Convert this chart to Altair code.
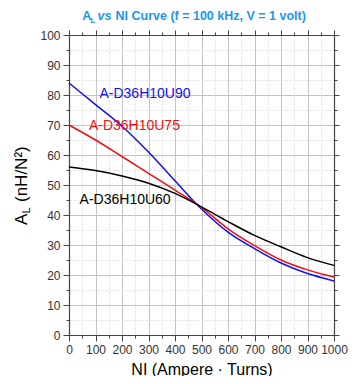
import altair as alt
import pandas as pd

# ---- data ----
ni = [0, 100, 200, 300, 400, 500, 600, 700, 800, 900, 1000]
al_u90 = [84.0, 76.8, 69.6, 61.0, 51.4, 42.0, 34.3, 28.8, 24.0, 20.5, 18.0]
al_u75 = [70.0, 65.0, 59.5, 53.9, 48.3, 42.5, 35.4, 29.8, 25.0, 21.7, 19.3]
al_u60 = [56.0, 54.8, 53.0, 50.6, 47.2, 42.7, 37.8, 33.2, 29.4, 25.8, 23.2]
series_names = ["A-D36H10U90", "A-D36H10U75", "A-D36H10U60"]
series_colors = ["#1010f0", "#f01010", "#000000"]

x_tick_values = list(range(0, 1001, 50))
y_tick_values = list(range(0, 101, 5))

rows = []
for name, vals in zip(series_names, [al_u90, al_u75, al_u60]):
    for x, v in zip(ni, vals):
        rows.append({"NI": x, "AL": v, "series": name})
df = pd.DataFrame(rows)

FONT = "Liberation Sans"
W, H = 265, 300

x_scale = alt.Scale(domain=[0, 1000], nice=False, zero=False)
y_scale = alt.Scale(domain=[0, 100], nice=False, zero=False)

mx = "datum.value % 100 === 0"
my = "datum.value % 10 === 0"


def cond(test, a, b):
    return {"condition": {"test": test, "value": a}, "value": b}


x_axis = alt.Axis(
    values=x_tick_values, format="d",
    labelExpr=f"{mx} ? datum.label : ''",
    labelOverlap=False, labelBound=False, labelFlush=False,
    labelFont=FONT, labelFontSize=12, labelColor="#333333", labelPadding=3,
    tickSize=cond(mx, 6, 3), tickColor="#444444", tickWidth=1,
    domainColor="#444444", domainWidth=1.2,
    grid=True, gridColor=cond(mx, "#c4c4c4", "#dedede"),
    gridDash=cond(mx, [], [2, 2]), gridWidth=1,
    title="NI (Ampere · Turns)", titleFont=FONT, titleFontSize=16,
    titleFontWeight="normal", titleColor="#000000",
    titleY=39, titleBaseline="alphabetic",
)
y_axis = alt.Axis(
    values=y_tick_values, format="d",
    labelExpr=f"{my} ? datum.label : ''",
    labelOverlap=False, labelBound=False, labelFlush=False,
    labelFont=FONT, labelFontSize=12, labelColor="#333333", labelPadding=3,
    tickSize=cond(my, 6, 3), tickColor="#444444", tickWidth=1,
    domainColor="#444444", domainWidth=1.2,
    grid=True, gridColor=cond(my, "#c4c4c4", "#dedede"),
    gridDash=cond(my, [], [2, 2]), gridWidth=1,
    title=None,
)

lines = alt.Chart(df).mark_line(interpolate="monotone", strokeWidth=1.5).encode(
    x=alt.X("NI:Q", scale=x_scale, axis=x_axis),
    y=alt.Y("AL:Q", scale=y_scale, axis=y_axis),
    color=alt.Color("series:N", scale=alt.Scale(domain=series_names, range=series_colors), legend=None),
    detail="series:N",
)

# series annotations (data coordinates)
label_pos = {"A-D36H10U90": (115, 79), "A-D36H10U75": (75, 68.3), "A-D36H10U60": (40, 43.7)}
one = pd.DataFrame({"a": [0]})
texts = []
for name, col in zip(series_names, series_colors):
    lx, ly = label_pos[name]
    texts.append(
        alt.Chart(one).mark_text(align="left", baseline="alphabetic", font=FONT, fontSize=14, color=col).encode(
            x=alt.X(datum=lx, scale=x_scale, axis=x_axis),
            y=alt.Y(datum=ly, scale=y_scale, axis=y_axis),
            text=alt.value(name),
        )
    )


def ptext(txt, x, y, size, color="#000000", weight="normal", style="normal", angle=0):
    kw = dict(align="left", baseline="alphabetic", font=FONT, fontSize=size, color=color,
              fontWeight=weight, fontStyle=style)
    if angle:
        kw["angle"] = angle
    return alt.Chart(one).mark_text(**kw).encode(
        x=alt.value(x), y=alt.value(y), text=alt.value(txt)
    )


TC = "#1a96f0"
title_parts = [
    ptext("A", 13.2, -15, 12.5, TC, "bold"),
    ptext("L", 21.5, -12.3, 8, TC, "bold"),
    ptext("vs", 28.5, -15, 12.5, TC, "bold", "italic"),
    ptext("NI Curve (f = 100 kHz, V = 1 volt)", 46.5, -15, 12.5, TC, "bold"),
]
ytitle_parts = [
    ptext("A", -42.5, 190, 17, angle=270),
    ptext("L", -39.5, 178.5, 11, angle=270),
    ptext("(nH/N²)", -42.5, 167, 17, angle=270),
]

inner = alt.layer(lines, *texts, *title_parts, *ytitle_parts)

frame = alt.Chart(df).mark_point(opacity=0).encode(
    x=alt.X("NI:Q", scale=x_scale, axis=alt.Axis(
        orient="top", values=x_tick_values, labels=False, grid=False, title=None,
        tickSize=cond(mx, 5, 3), tickColor="#444444", domainColor="#444444", domainWidth=1.2)),
    y=alt.Y("AL:Q", scale=y_scale, axis=alt.Axis(
        orient="right", values=y_tick_values, labels=False, grid=False, title=None,
        tickSize=cond(my, 5, 3), tickColor="#444444", domainColor="#444444", domainWidth=1.2)),
)

chart = alt.layer(inner, frame).resolve_scale(x="independent", y="independent").properties(
    width=W, height=H,
    autosize=alt.AutoSizeParams(type="none"),
    padding={"left": 61, "top": 27, "right": 18, "bottom": 41},
).configure_view(stroke=None).configure(background="white")

chart.save("out.html", embed_options={"renderer": "svg", "actions": False})
